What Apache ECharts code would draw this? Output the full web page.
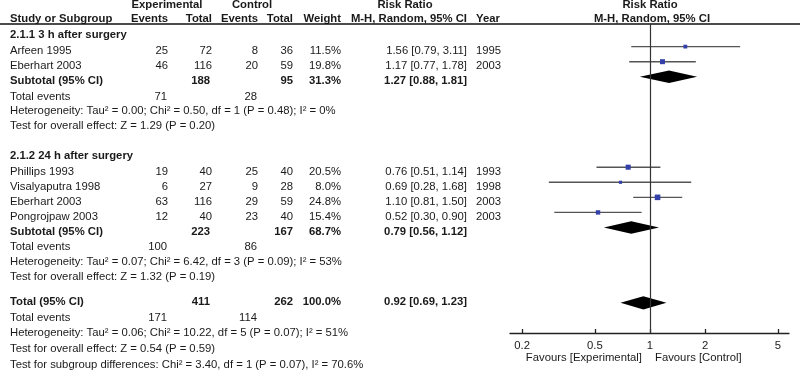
<!DOCTYPE html>
<html><head><meta charset="utf-8">
<script src="https://cdn.jsdelivr.net/npm/echarts@6/dist/echarts.min.js"></script>
<style>html,body{margin:0;padding:0;background:#fff}#c{width:800px;height:372px}</style>
</head><body><div id="c"></div>
<script>
// ---------- DATA ----------
const groupTitles = ['2.1.1 3 h after surgery', '2.1.2 24 h after surgery'];
const studyNames = ['Arfeen 1995', 'Eberhart 2003', 'Phillips 1993', 'Visalyaputra 1998', 'Eberhart 2003', 'Pongrojpaw 2003'];
const studyGroup = [0, 0, 1, 1, 1, 1];
const expEvents = [25, 46, 19, 6, 63, 12];
const expTotal = [72, 116, 40, 27, 116, 40];
const ctrlEvents = [8, 20, 25, 9, 29, 23];
const ctrlTotal = [36, 59, 40, 28, 59, 40];
const weights = [11.5, 19.8, 20.5, 8.0, 24.8, 15.4];
const riskRatio = [1.56, 1.17, 0.76, 0.69, 1.10, 0.52];
const ciLow = [0.79, 0.77, 0.51, 0.28, 0.81, 0.30];
const ciHigh = [3.11, 1.78, 1.14, 1.68, 1.50, 0.90];
const years = [1995, 2003, 1993, 1998, 2003, 2003];

const subExpTotal = [188, 223];
const subCtrlTotal = [95, 167];
const subWeight = [31.3, 68.7];
const subRR = [1.27, 0.79];
const subLow = [0.88, 0.56];
const subHigh = [1.81, 1.12];
const subExpEvents = [71, 100];
const subCtrlEvents = [28, 86];
const subHet = ['Heterogeneity: Tau² = 0.00; Chi² = 0.50, df = 1 (P = 0.48); I² = 0%',
                'Heterogeneity: Tau² = 0.07; Chi² = 6.42, df = 3 (P = 0.09); I² = 53%'];
const subTest = ['Test for overall effect: Z = 1.29 (P = 0.20)',
                 'Test for overall effect: Z = 1.32 (P = 0.19)'];

const totalExpTotal = 411, totalCtrlTotal = 262, totalWeight = 100.0;
const totalRR = 0.92, totalLow = 0.69, totalHigh = 1.23;
const totalExpEvents = 171, totalCtrlEvents = 114;
const totalHet = 'Heterogeneity: Tau² = 0.06; Chi² = 10.22, df = 5 (P = 0.07); I² = 51%';
const totalTest = 'Test for overall effect: Z = 0.54 (P = 0.59)';
const subgroupTest = 'Test for subgroup differences: Chi² = 3.40, df = 1 (P = 0.07), I² = 70.6%';

const tickValues = [0.2, 0.5, 1, 2, 5];
const favourLeft = 'Favours [Experimental]';
const favourRight = 'Favours [Control]';

// ---------- LAYOUT ----------
const FONT = '"Liberation Sans", Arial, sans-serif';
const FS = 11.3;
const TXT = '#1a1a1a';
const col = { name: 10, ee: 168, et: 212, ce: 258, ct: 293, w: 341, rr: 467, yr: 476 };
const studyRows = [0, 1, 8, 9, 10, 11];   // plot rows (y-axis units)
const subRows = [2, 12];
const totalRow = 17;
const textY = {
  h1: 5, h2: 18.5,
  groups: [
    { title: 34.5, studies: [50.8, 65.8], sub: 80.5, te: 96.7, het: 111, test: 126 },
    { title: 155.7, studies: [171.7, 187.3, 201.7, 217.3], sub: 231.7, te: 247.3, het: 262, test: 277 }
  ],
  total: 302, te: 317.5, het: 333, test: 349, sg: 365
};

const g = [];
function t(x, y, text, align, bold) {
  g.push({ type: 'text', x: x, y: y, silent: true,
    style: { text: String(text), fill: TXT, font: (bold ? 'bold ' : '') + FS + 'px ' + FONT,
      textAlign: align || 'left', textVerticalAlign: 'middle' } });
}
const f2 = v => v.toFixed(2);
const ci = (r, l, h) => f2(r) + ' [' + f2(l) + ', ' + f2(h) + ']';

// headers
t(167, textY.h1, 'Experimental', 'center', true);
t(252, textY.h1, 'Control', 'center', true);
t(405, textY.h1, 'Risk Ratio', 'center', true);
t(650, textY.h1, 'Risk Ratio', 'center', true);
t(col.name, textY.h2, 'Study or Subgroup', 'left', true);
t(col.ee, textY.h2, 'Events', 'right', true);
t(col.et, textY.h2, 'Total', 'right', true);
t(col.ce, textY.h2, 'Events', 'right', true);
t(col.ct, textY.h2, 'Total', 'right', true);
t(col.w, textY.h2, 'Weight', 'right', true);
t(col.rr, textY.h2, 'M-H, Random, 95% CI', 'right', true);
t(col.yr, textY.h2, 'Year', 'left', true);
t(652, textY.h2, 'M-H, Random, 95% CI', 'center', true);

// groups
groupTitles.forEach((title, gi) => {
  const L = textY.groups[gi];
  t(col.name, L.title, title, 'left', true);
  let k = 0;
  studyNames.forEach((n, i) => {
    if (studyGroup[i] !== gi) return;
    const y = L.studies[k++];
    t(col.name, y, n);
    t(col.ee, y, expEvents[i], 'right');
    t(col.et, y, expTotal[i], 'right');
    t(col.ce, y, ctrlEvents[i], 'right');
    t(col.ct, y, ctrlTotal[i], 'right');
    t(col.w, y, weights[i].toFixed(1) + '%', 'right');
    t(col.rr, y, ci(riskRatio[i], ciLow[i], ciHigh[i]), 'right');
    t(col.yr, y, years[i]);
  });
  t(col.name, L.sub, 'Subtotal (95% CI)', 'left', true);
  t(col.et - 2, L.sub, subExpTotal[gi], 'right', true);
  t(col.ct, L.sub, subCtrlTotal[gi], 'right', true);
  t(col.w, L.sub, subWeight[gi].toFixed(1) + '%', 'right', true);
  t(col.rr, L.sub, ci(subRR[gi], subLow[gi], subHigh[gi]), 'right', true);
  t(col.name, L.te, 'Total events');
  t(col.ee - 1, L.te, subExpEvents[gi], 'right');
  t(col.ce - 1, L.te, subCtrlEvents[gi], 'right');
  t(col.name, L.het, subHet[gi]);
  t(col.name, L.test, subTest[gi]);
});

// overall
t(col.name, textY.total, 'Total (95% CI)', 'left', true);
t(col.et - 2, textY.total, totalExpTotal, 'right', true);
t(col.ct, textY.total, totalCtrlTotal, 'right', true);
t(col.w, textY.total, totalWeight.toFixed(1) + '%', 'right', true);
t(col.rr, textY.total, ci(totalRR, totalLow, totalHigh), 'right', true);
t(col.name, textY.te, 'Total events');
t(col.ee - 1, textY.te, totalExpEvents, 'right');
t(col.ce - 1, textY.te, totalCtrlEvents, 'right');
t(col.name, textY.het, totalHet);
t(col.name, textY.test, totalTest);
t(col.name, textY.sg, subgroupTest);

// favours labels
t(642, 358, favourLeft, 'right');
t(655, 358, favourRight, 'left');

// header rule
g.push({ type: 'line', silent: true, shape: { x1: 0, y1: 24, x2: 800, y2: 24 },
  style: { stroke: '#111', lineWidth: 1.3 } });

// ---------- SERIES DATA ----------
const studyData = riskRatio.map((r, i) => [r, ciLow[i], ciHigh[i], studyRows[i], weights[i]]);
const diamondData = subRR.map((r, i) => [r, subLow[i], subHigh[i], subRows[i], 6.2])
  .concat([[totalRR, totalLow, totalHigh, totalRow, 6.6]]);

const chart = echarts.init(document.getElementById('c'), null, { renderer: 'canvas' });
chart.setOption({
  animation: false,
  backgroundColor: '#fff',
  grid: { left: 510, right: 11, top: 24, bottom: 39 },
  xAxis: {
    type: 'log', logBase: 10, min: 0.1718, max: 5.75, position: 'bottom',
    axisLine: { show: true, onZero: false, lineStyle: { color: '#222', width: 1.3 } },
    axisTick: { show: true, inside: true, length: 4, customValues: tickValues, lineStyle: { color: '#222', width: 1.3 } },
    axisLabel: { show: true, customValues: tickValues, margin: 7, color: TXT, fontSize: FS, fontFamily: FONT,
      formatter: v => String(+(+v).toFixed(2)) },
    splitLine: { show: false }, minorTick: { show: false }
  },
  yAxis: { type: 'value', min: -1.5, max: 19, inverse: true, show: false },
  series: [
    {
      type: 'custom', name: 'studies', data: studyData,
      dimensions: ['rr', 'lo', 'hi', 'row', 'w'], encode: { x: 0, y: 3 },
      clip: false,
      renderItem: function (params, api) {
        const row = api.value(3);
        const c = api.coord([api.value(0), row]);
        const l = api.coord([api.value(1), row]);
        const h = api.coord([api.value(2), row]);
        const s = Math.sqrt(api.value(4)) * 1.12;
        return { type: 'group', children: [
          { type: 'line', shape: { x1: l[0], y1: l[1], x2: h[0], y2: h[1] }, style: { stroke: '#555', lineWidth: 1.4 } },
          { type: 'rect', shape: { x: c[0] - s / 2, y: c[1] - s / 2, width: s, height: s }, style: { fill: '#3340a8' } }
        ] };
      },
      markLine: {
        silent: true, symbol: 'none', label: { show: false },
        lineStyle: { color: '#333', width: 1.2, type: 'solid' },
        data: [{ xAxis: 1 }]
      }
    },
    {
      type: 'custom', name: 'pooled', data: diamondData,
      dimensions: ['rr', 'lo', 'hi', 'row', 'hh'], encode: { x: 0, y: 3 },
      clip: false,
      renderItem: function (params, api) {
        const row = api.value(3);
        const c = api.coord([api.value(0), row]);
        const l = api.coord([api.value(1), row]);
        const h = api.coord([api.value(2), row]);
        const hh = api.value(4);
        return { type: 'polygon', shape: { points: [[l[0], l[1]], [c[0], c[1] - hh], [h[0], h[1]], [c[0], c[1] + hh]] },
          style: { fill: '#000' } };
      }
    }
  ],
  graphic: g
});
</script></body></html>
